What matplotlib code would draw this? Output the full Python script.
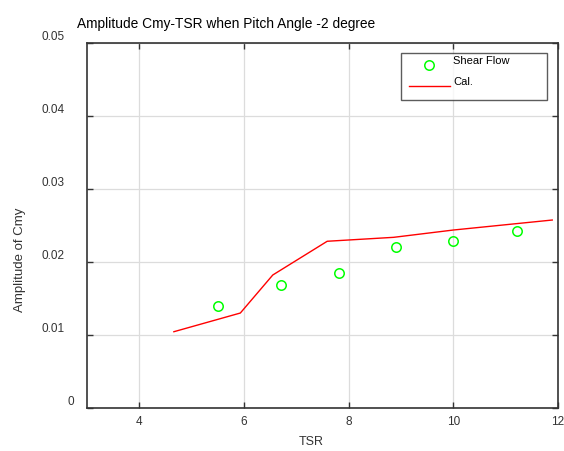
import matplotlib
matplotlib.use("Agg")
import matplotlib.pyplot as plt
import matplotlib.transforms as mtransforms

plt.rcParams['font.family'] = ['Liberation Sans', 'DejaVu Sans']

# measured points (Shear Flow)
tsr_meas = [5.50, 6.70, 7.81, 8.91, 10.00, 11.22]
cmy_meas = [0.0140, 0.0168, 0.0185, 0.0220, 0.0229, 0.0243]

# calculated curve (Cal.)
tsr_cal = [4.66, 5.93, 6.55, 7.59, 8.86, 10.00, 11.89]
cmy_cal = [0.01045, 0.01301, 0.01822, 0.02284, 0.02338, 0.02438, 0.02575]

xticks = [4, 6, 8, 10, 12]
yticks = [0, 0.01, 0.02, 0.03, 0.04, 0.05]
ytick_labels = ['0', '0.01', '0.02', '0.03', '0.04', '0.05']

fig = plt.figure(figsize=(5.64, 4.51), dpi=100)
ax = fig.add_axes([87 / 564, 43 / 451, 471 / 564, 365 / 451])

ax.plot(tsr_meas, cmy_meas, 'o', mfc='none', mec='#00ff00', mew=1.1, ms=6.8,
        label='Shear Flow')
ax.plot(tsr_cal, cmy_cal, '-', color='#ff0000', lw=1.0, label='Cal.')

ax.set_xlim(3, 12)
ax.set_ylim(0, 0.05)
ax.set_xticks(xticks)
ax.set_yticks(yticks)
ax.set_yticklabels([])
ax.grid(True, color='#dcdcdc', lw=0.9)
ax.set_axisbelow(True)
ax.tick_params(direction='in', top=True, right=True, length=4, width=1,
               color='#333333', labelsize=8.5, labelcolor='#333333', pad=6)
for s in ax.spines.values():
    s.set_color('#333333')
    s.set_linewidth(1.2)

# y tick labels, placed a little above each tick like the original export
trans = mtransforms.blended_transform_factory(fig.transFigure, ax.transData)
for v, lab in zip(yticks, ytick_labels):
    if lab == '0':
        fig.text(68 / 564, 0, lab, transform=trans, ha='left', va='bottom',
                 fontsize=8.5, color='#333333')
    else:
        fig.text(65 / 564, v, lab, transform=trans, ha='right', va='bottom',
                 fontsize=8.5, color='#333333')

ax.set_xlabel('TSR', fontsize=9, color='#333333')
ax.xaxis.set_label_coords(0.476, -0.078)
ax.set_ylabel('Amplitude of Cmy', fontsize=9.5, color='#333333')
ax.yaxis.set_label_coords(-0.13, 0.405)

fig.text(77 / 564, 1 - 24 / 451, 'Amplitude Cmy-TSR when Pitch Angle -2 degree',
         ha='left', va='center', fontsize=9.9)

leg = ax.legend(loc='upper left',
                bbox_to_anchor=(401 / 564, 1 - 100 / 451, 146 / 564, 47 / 451),
                bbox_transform=fig.transFigure, mode='expand', fontsize=8,
                frameon=True, fancybox=False, edgecolor='#333333',
                handlelength=3.7, handletextpad=0.3, borderpad=0.7,
                labelspacing=1.0, borderaxespad=0)
leg.get_frame().set_linewidth(1.0)
# the original export puts legend text a bit above its symbol
shift = mtransforms.ScaledTranslation(0, 4.5 / 100, fig.dpi_scale_trans)
for t in leg.get_texts():
    t.set_transform(t.get_transform() + shift)

fig.savefig('out.png', dpi=100)
